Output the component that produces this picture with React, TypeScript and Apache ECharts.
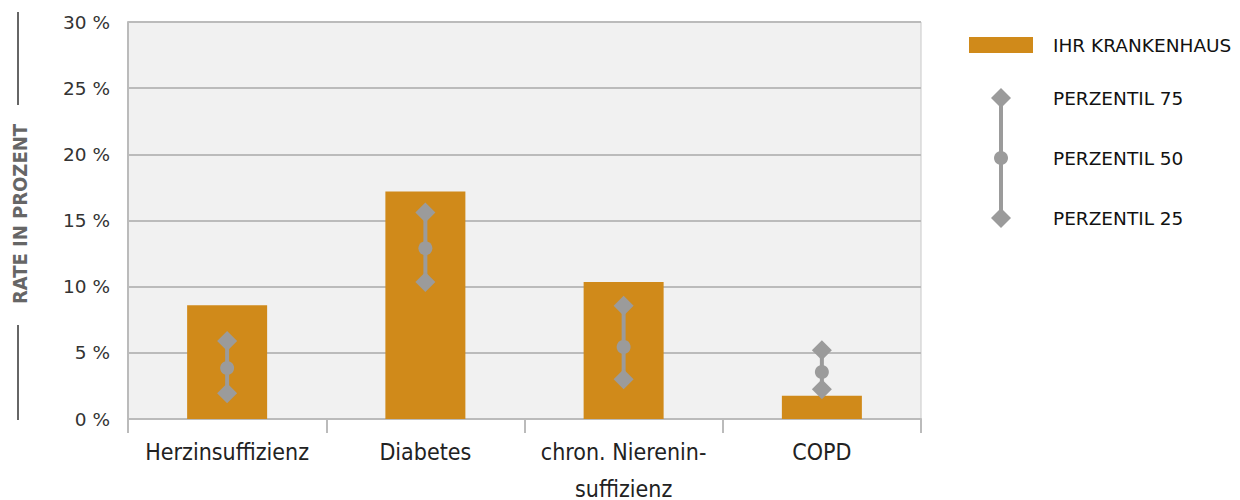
import React, { useEffect, useRef } from "react";
import * as echarts from "echarts";

const categories = ["Herzinsuffizienz", "Diabetes", "chron. Nierenin-\nsuffizienz", "COPD"];
const hospitalRate = [8.6, 17.2, 10.35, 1.75];
const p25 = [1.95, 10.35, 3.0, 2.25];
const p50 = [3.85, 12.9, 5.45, 3.55];
const p75 = [5.9, 15.6, 8.55, 5.2];
const yTicks = [0, 5, 10, 15, 20, 25, 30];
const legendLabels = ["IHR KRANKENHAUS", "PERZENTIL 75", "PERZENTIL 50", "PERZENTIL 25"];
const axisTitle = "RATE IN PROZENT";

const ORANGE = "#D08A1A";
const GREY = "#9B9B9B";

function diamond(cx: number, cy: number, r: number, color: string) {
  return {
    type: "polygon",
    shape: { points: [[cx, cy - r], [cx + r, cy], [cx, cy + r], [cx - r, cy]] },
    style: { fill: color },
  };
}

export default function App() {
  const ref = useRef<HTMLDivElement>(null);
  useEffect(() => {
    if (!ref.current) return;
    const chart = echarts.init(ref.current, null, { renderer: "svg" });
    const pctData = categories.map((_, i) => [i, p25[i], p50[i], p75[i]]);
    const legendX = 1001;
    const legendTextX = 1053;
    chart.setOption({
      animation: false,
      grid: {
        left: 128,
        right: 319,
        top: 22,
        bottom: 81,
        show: true,
        backgroundColor: "#F1F1F1",
        borderColor: "#C8C8C8",
        borderWidth: 1,
        containLabel: false,
        outerBoundsMode: "none",
      },
      xAxis: {
        type: "category",
        data: categories,
        axisLine: { lineStyle: { color: "#BBBBBB", width: 2 } },
        axisTick: { show: true, length: 14, lineStyle: { color: "#BBBBBB", width: 2 } },
        axisLabel: {
          color: "#222",
          fontFamily: "DejaVu Sans Condensed, DejaVu Sans",
          fontSize: 23,
          lineHeight: 37,
          margin: 14,
          interval: 0,
        },
      },
      yAxis: {
        type: "value",
        min: yTicks[0],
        max: yTicks[yTicks.length - 1],
        interval: 5,
        axisLine: { show: true, lineStyle: { color: "#BBBBBB", width: 2 } },
        axisTick: { show: false },
        splitLine: { lineStyle: { color: "#BBBBBB", width: 2 } },
        axisLabel: {
          color: "#333",
          fontFamily: "DejaVu Sans",
          fontSize: 18.5,
          margin: 18,
          formatter: (v: number) => `${v} %`,
        },
      },
      series: [
        {
          type: "bar",
          name: legendLabels[0],
          data: hospitalRate,
          barWidth: 80,
          itemStyle: { color: ORANGE },
          z: 2,
        },
        {
          type: "custom",
          name: "Perzentile",
          data: pctData,
          z: 3,
          renderItem: (params: any, api: any) => {
            const idx = api.value(0);
            const a = api.coord([idx, api.value(1)]);
            const b = api.coord([idx, api.value(2)]);
            const c = api.coord([idx, api.value(3)]);
            return {
              type: "group",
              children: [
                {
                  type: "line",
                  shape: { x1: a[0], y1: a[1], x2: c[0], y2: c[1] },
                  style: { stroke: GREY, lineWidth: 4 },
                },
                diamond(a[0], a[1], 10, GREY),
                diamond(c[0], c[1], 10, GREY),
                { type: "circle", shape: { cx: b[0], cy: b[1], r: 7 }, style: { fill: GREY } },
              ],
            };
          },
        },
      ],
      graphic: [
        { type: "line", shape: { x1: 18, y1: 12, x2: 18, y2: 105 }, style: { stroke: "#666", lineWidth: 2 } },
        { type: "line", shape: { x1: 18, y1: 325, x2: 18, y2: 420 }, style: { stroke: "#666", lineWidth: 2 } },
        {
          type: "text",
          x: 20,
          y: 214,
          rotation: Math.PI / 2,
          style: {
            text: axisTitle,
            fill: "#666",
            font: "bold 20px 'DejaVu Sans Condensed', 'DejaVu Sans'",
            align: "center",
            verticalAlign: "middle",
          },
        },
        { type: "rect", shape: { x: 969, y: 37, width: 64, height: 16 }, style: { fill: ORANGE } },
        { type: "line", shape: { x1: legendX, y1: 98, x2: legendX, y2: 218 }, style: { stroke: GREY, lineWidth: 4 } },
        diamond(legendX, 98, 10, GREY),
        { type: "circle", shape: { cx: legendX, cy: 158, r: 7 }, style: { fill: GREY } },
        diamond(legendX, 218, 10, GREY),
        ...legendLabels.map((t, i) => ({
          type: "text",
          x: legendTextX,
          y: [45, 98, 158, 218][i],
          style: {
            text: t,
            fill: "#111",
            font: "18.5px 'DejaVu Sans'",
            verticalAlign: "middle",
          },
        })),
      ],
    });
    return () => chart.dispose();
  }, []);
  return <div ref={ref} style={{ width: 1240, height: 500, position: "absolute", left: 0, top: 0 }} />;
}
